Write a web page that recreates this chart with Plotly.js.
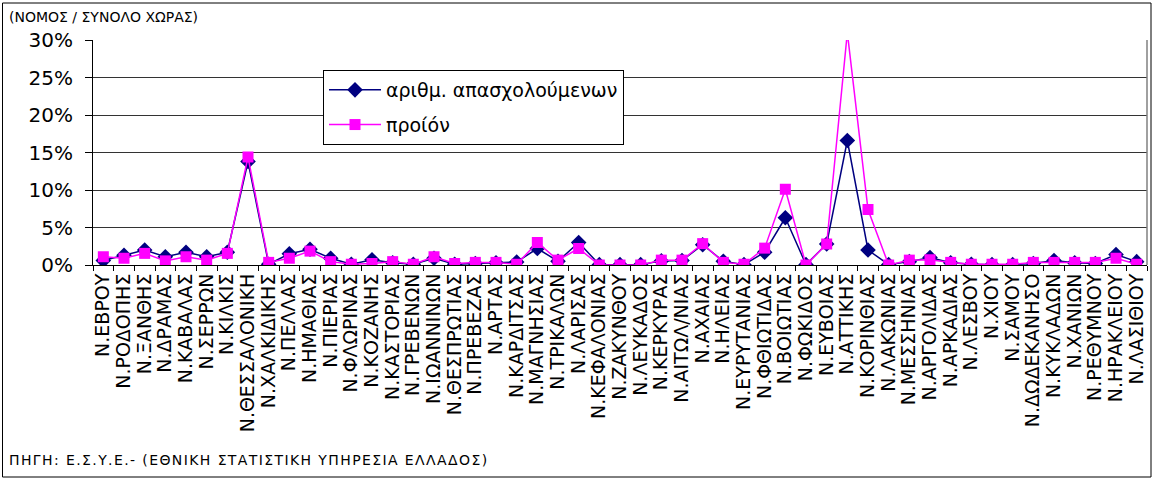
<!DOCTYPE html>
<html>
<head>
<meta charset="utf-8">
<script src="https://cdn.plot.ly/plotly-3.0.1.min.js"></script>
<style>
html,body{margin:0;padding:0;background:#fff;}
#chart{width:1154px;height:479px;}
</style>
</head>
<body>
<div id="chart"></div>
<script>
const categories = [
  "Ν.ΕΒΡΟΥ","Ν.ΡΟΔΟΠΗΣ","Ν.ΞΑΝΘΗΣ","Ν.ΔΡΑΜΑΣ","Ν.ΚΑΒΑΛΑΣ","Ν.ΣΕΡΡΩΝ","Ν.ΚΙΛΚΙΣ",
  "Ν.ΘΕΣΣΑΛΟΝΙΚΗ","Ν.ΧΑΛΚΙΔΙΚΗΣ","Ν.ΠΕΛΛΑΣ","Ν.ΗΜΑΘΙΑΣ","Ν.ΠΙΕΡΙΑΣ","Ν.ΦΛΩΡΙΝΑΣ",
  "Ν.ΚΟΖΑΝΗΣ","Ν.ΚΑΣΤΟΡΙΑΣ","Ν.ΓΡΕΒΕΝΩΝ","Ν.ΙΩΑΝΝΙΝΩΝ","Ν.ΘΕΣΠΡΩΤΙΑΣ","Ν.ΠΡΕΒΕΖΑΣ",
  "Ν.ΑΡΤΑΣ","Ν.ΚΑΡΔΙΤΣΑΣ","Ν.ΜΑΓΝΗΣΙΑΣ","Ν.ΤΡΙΚΑΛΩΝ","Ν.ΛΑΡΙΣΑΣ","Ν.ΚΕΦΑΛΟΝΙΑΣ",
  "Ν.ΖΑΚΥΝΘΟΥ","Ν.ΛΕΥΚΑΔΟΣ","Ν.ΚΕΡΚΥΡΑΣ","Ν.ΑΙΤΩΛ/ΝΙΑΣ","Ν.ΑΧΑΙΑΣ","Ν.ΗΛΕΙΑΣ",
  "Ν.ΕΥΡΥΤΑΝΙΑΣ","Ν.ΦΘΙΩΤΙΔΑΣ","Ν.ΒΟΙΩΤΙΑΣ","Ν.ΦΩΚΙΔΟΣ","Ν.ΕΥΒΟΙΑΣ","Ν.ΑΤΤΙΚΗΣ",
  "Ν.ΚΟΡΙΝΘΙΑΣ","Ν.ΛΑΚΩΝΙΑΣ","Ν.ΜΕΣΣΗΝΙΑΣ","Ν.ΑΡΓΟΛΙΔΑΣ","Ν.ΑΡΚΑΔΙΑΣ","Ν.ΛΕΣΒΟΥ",
  "Ν.ΧΙΟΥ","Ν.ΣΑΜΟΥ","Ν.ΔΩΔΕΚΑΝΗΣΟ","Ν.ΚΥΚΛΑΔΩΝ","Ν.ΧΑΝΙΩΝ","Ν.ΡΕΘΥΜΝΟΥ",
  "Ν.ΗΡΑΚΛΕΙΟΥ","Ν.ΛΑΣΙΘΙΟΥ"
];

// αριθμ. απασχολούμενων (% of country total)
const employed = [
  0.6, 1.3, 2.0, 1.1, 1.7, 1.1, 1.7,
  13.8, 0.1, 1.5, 2.1, 0.9, 0.1,
  0.7, 0.3, 0.1, 0.9, 0.1, 0.2,
  0.3, 0.4, 2.2, 0.5, 3.0, 0.05,
  0.05, 0.05, 0.55, 0.6, 2.7, 0.5,
  0.05, 1.7, 6.3, 0.05, 2.8, 16.6,
  2.0, 0.05, 0.45, 1.0, 0.3, 0.1,
  0.05, 0.05, 0.2, 0.6, 0.3, 0.2,
  1.4, 0.45
];

// προϊόν (% of country total)
const product = [
  1.1, 0.9, 1.55, 0.55, 1.1, 0.65, 1.55,
  14.4, 0.35, 0.9, 1.85, 0.45, 0.1,
  0.2, 0.45, 0.1, 1.1, 0.2, 0.35,
  0.35, 0.1, 3.0, 0.65, 2.2, 0.0,
  0.0, 0.0, 0.65, 0.65, 2.85, 0.35,
  0.1, 2.25, 10.1, 0.0, 2.8, 31.0,
  7.4, 0.0, 0.65, 0.7, 0.35, 0.1,
  0.1, 0.1, 0.35, 0.35, 0.35, 0.35,
  0.9, 0.1
];

const seriesNames = ["αριθμ. απασχολούμενων", "προίόν"];
const yTickVals = [0, 5, 10, 15, 20, 25, 30];
const titleText = "(ΝΟΜΟΣ / ΣΥΝΟΛΟ ΧΩΡΑΣ)";
const sourceText = "ΠΗΓΗ: Ε.Σ.Υ.Ε.- (ΕΘΝΙΚΗ ΣΤΑΤΙΣΤΙΚΗ ΥΠΗΡΕΣΙΑ ΕΛΛΑΔΟΣ)";

const FONT = "DejaVu Sans, Liberation Sans, Arial, sans-serif";

const traces = [
  {
    x: categories, y: employed, name: seriesNames[0], type: "scatter", mode: "lines+markers",
    legendgroup: "a",
    line: {color: "#000080", width: 1.5},
    marker: {symbol: "diamond", size: 12, color: "#000080"}
  },
  {
    x: categories, y: product, name: seriesNames[1], type: "scatter", mode: "lines+markers",
    legendgroup: "b",
    line: {color: "#FF00FF", width: 1.5},
    marker: {symbol: "square", size: 11, color: "#FF00FF"}
  }
];

const L = 93, T = 40, W = 1054, H = 225;
const px = v => (v - L) / W;
const py = v => (T + H - v) / H;

const layout = {
  width: 1154, height: 479,
  margin: {l: L, r: 1154 - L - W, t: T, b: 479 - T - H, pad: 0},
  paper_bgcolor: "#ffffff", plot_bgcolor: "#ffffff",
  font: {family: FONT, color: "#000000"},
  showlegend: true,
  legend: {
    x: px(323), y: py(70), xanchor: "left", yanchor: "top",
    bgcolor: "#ffffff", bordercolor: "#000000", borderwidth: 1,
    font: {family: FONT, size: 19, color: "#000"},
    itemwidth: 52, tracegroupgap: 7,
    traceorder: "grouped"
  },
  xaxis: {
    type: "category",
    tickmode: "linear", tick0: 0, dtick: 1,
    tickangle: -90,
    tickfont: {family: FONT, size: 19, color: "#000"},
    showgrid: false,
    showline: true, linecolor: "#000", linewidth: 1,
    ticks: "outside", tickson: "boundaries", ticklen: 5, tickcolor: "#000",
    range: [-0.5, categories.length - 0.5],
    fixedrange: true
  },
  yaxis: {
    range: [0, 30],
    tickvals: yTickVals,
    ticktext: yTickVals.map(v => v + "%"),
    tickfont: {family: FONT, size: 20, color: "#000"},
    ticklabelstandoff: 8,
    showgrid: true, gridcolor: "#333333", gridwidth: 1,
    showline: true, linecolor: "#000", linewidth: 1,
    ticks: "outside", ticklen: 7, tickcolor: "#000",
    zeroline: false,
    fixedrange: true
  },
  shapes: [
    {type: "line", xref: "paper", yref: "paper", x0: 1, x1: 1, y0: 0, y1: 1,
     line: {color: "#808080", width: 1.5}},
    {type: "rect", xref: "paper", yref: "paper",
     x0: px(2.5), x1: px(1151), y0: py(477), y1: py(3),
     line: {color: "#000", width: 1}, fillcolor: "rgba(0,0,0,0)", layer: "below"}
  ],
  annotations: [
    {xref: "paper", yref: "paper", x: px(7), y: py(17), xanchor: "left", yanchor: "middle",
     showarrow: false, text: titleText, font: {family: FONT, size: 14, color: "#000"}},
    {xref: "paper", yref: "paper", x: px(7), y: py(460), xanchor: "left", yanchor: "middle",
     showarrow: false, text: '<span style="letter-spacing:1.4px">' + sourceText + '</span>',
     font: {family: FONT, size: 14, color: "#000"}}
  ]
};

Plotly.newPlot("chart", traces, layout, {displayModeBar: false, staticPlot: true});
</script>
</body>
</html>
